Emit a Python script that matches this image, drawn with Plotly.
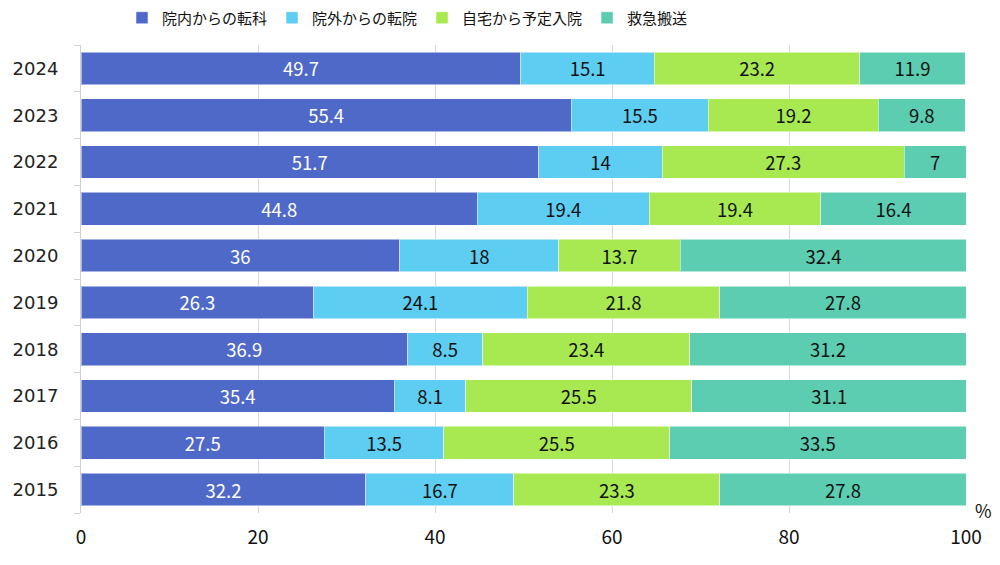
import plotly.graph_objects as go

years = ["2024", "2023", "2022", "2021", "2020", "2019", "2018", "2017", "2016", "2015"]
series_names = ["院内からの転科", "院外からの転院", "自宅から予定入院", "救急搬送"]
internal = [49.7, 55.4, 51.7, 44.8, 36, 26.3, 36.9, 35.4, 27.5, 32.2]
external = [15.1, 15.5, 14, 19.4, 18, 24.1, 8.5, 8.1, 13.5, 16.7]
planned = [23.2, 19.2, 27.3, 19.4, 13.7, 21.8, 23.4, 25.5, 25.5, 23.3]
emergency = [11.9, 9.8, 7, 16.4, 32.4, 27.8, 31.2, 31.1, 33.5, 27.8]
x_ticks = [0, 20, 40, 60, 80, 100]

colors = ["#4f69c9", "#5ecdf2", "#a8e951", "#5ccdb1"]
text_colors = ["white", "#111111", "#111111", "#111111"]
FONT = "Noto Sans CJK JP"

W, H = 1000, 565
OFF = 8  # page body margin
L, T = 81 - OFF, 45 - OFF
PW, PH = 885, 468
R = W - L - PW
B = H - T - PH

fig = go.Figure()
for name, vals, c, tc in zip(series_names, [internal, external, planned, emergency], colors, text_colors):
    fig.add_trace(go.Bar(
        y=years, x=vals, name=name, orientation="h",
        marker=dict(color=c, line=dict(color="rgba(255,255,255,0.5)", width=1)),
        text=[f"{v:g}" for v in vals],
        textposition="inside", insidetextanchor="middle", textangle=0,
        constraintext="none",
        textfont=dict(color=tc, size=18.5, family=FONT),
        width=0.7,
    ))

fig.update_layout(
    barmode="stack",
    width=W, height=H,
    margin=dict(l=L, r=R, t=T, b=B, autoexpand=False),
    plot_bgcolor="white", paper_bgcolor="white",
    font=dict(family=FONT, color="#111111"),
    legend=dict(orientation="h", x=(122 - 81) / PW, xanchor="left",
                yref="container", y=1 - (18 - OFF) / H, yanchor="middle",
                font=dict(size=15, family=FONT), itemwidth=30,
                traceorder="normal"),
    showlegend=True,
    xaxis=dict(range=[0, 100], tickvals=x_ticks, showgrid=True, gridcolor="#d9d9d9",
               gridwidth=1, zeroline=False, showline=False, automargin=False,
               tickfont=dict(size=19, family=FONT), ticklabelstandoff=11),
    yaxis=dict(categoryorder="array", categoryarray=years[::-1], automargin=False,
               showline=True, linecolor="#d0d0d0", linewidth=1,
               ticks="outside", tickson="boundaries", ticklen=6, tickcolor="#d0d0d0",
               tickfont=dict(size=18, family="DejaVu Sans", color="#222222"),
               ticklabelstandoff=18),
    annotations=[dict(text="%", x=(984 - 81) / PW, y=(513 - 510) / PH,
                      xref="paper", yref="paper", xanchor="center", yanchor="middle",
                      showarrow=False, font=dict(size=18, family=FONT))],
)

fig.write_html("out.html")
